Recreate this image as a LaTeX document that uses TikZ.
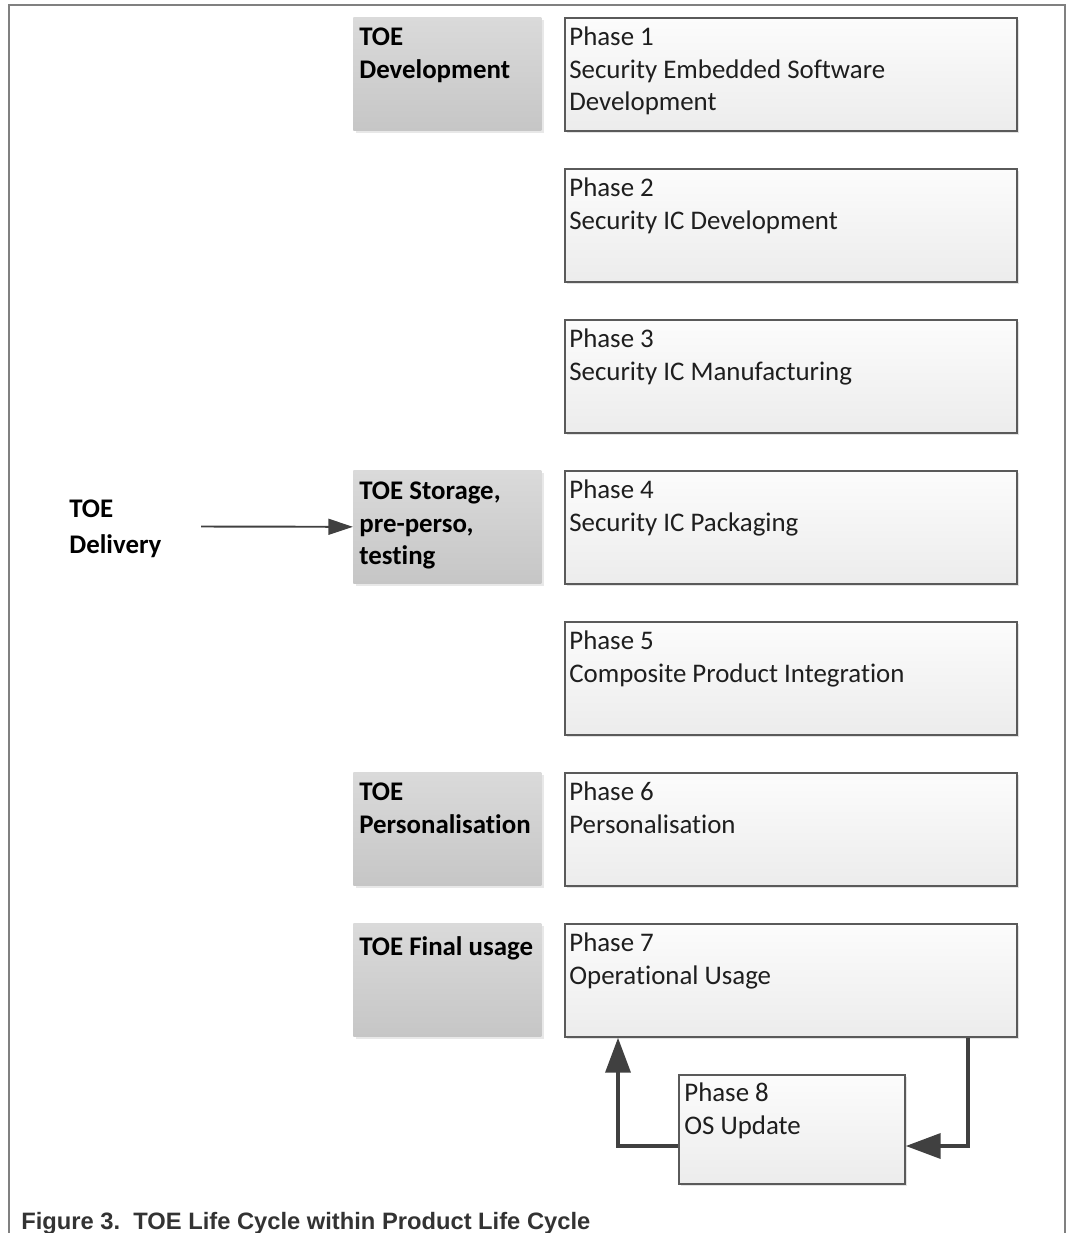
\documentclass[tikz,border=0pt]{standalone}
\usepackage{fontspec}
\setmainfont{Carlito}[Ligatures=NoCommon]
\newfontfamily\capfont{Liberation Sans}
\usetikzlibrary{arrows.meta,shadows,calc}
\definecolor{boxline}{HTML}{5A5A5A}
\definecolor{stagetop}{HTML}{DADADA}
\definecolor{stagebot}{HTML}{C6C6C6}
\definecolor{phasetop}{HTML}{FCFCFC}
\definecolor{phasebot}{HTML}{ECECEC}
\definecolor{inkgray}{HTML}{1E1E1E}
\definecolor{loopgray}{HTML}{404040}
\definecolor{capgray}{HTML}{333333}
\tikzset{
  phase/.style={draw=boxline, line width=0.9pt, top color=phasetop, bottom color=phasebot,
    minimum width=9.04cm, minimum height=2.26cm, inner sep=0pt, anchor=north west,
    drop shadow={shadow xshift=1.5pt, shadow yshift=-1.5pt, opacity=0.22}},
  stage/.style={top color=stagetop, bottom color=stagebot,
    minimum width=3.76cm, minimum height=2.26cm, inner sep=0pt, anchor=north west,
    drop shadow={shadow xshift=1.5pt, shadow yshift=-1.5pt, opacity=0.18}},
  boxtext/.style={anchor=north west, align=left, inner sep=0pt, text=inkgray,
    font=\fontsize{15.3}{18.5}\selectfont, execute at begin node={\strut}},
  stagetext/.style={boxtext, text=black, font=\fontsize{15.3}{18.3}\selectfont\bfseries},
  frame/.style={draw=gray, line width=0.6pt},
  feed/.style={-{Triangle[length=14pt,width=9pt]}, draw=loopgray, line width=1.1pt},
  looparrow/.style={-{Triangle[length=20pt,width=14pt]}, draw=loopgray, line width=2.8pt},
  captext/.style={anchor=base west, inner sep=0pt, text=capgray, font=\capfont\fontsize{13.5}{16}\selectfont\bfseries}
}
\begin{document}
\begin{tikzpicture}[x=0.02cm,y=-0.02cm]
  \useasboundingbox (0,0) rectangle (1066,1233);
  \draw[frame] (9,1233) -- (9,5) -- (1065,5) -- (1065,1233);
  % phases (strut top sits about 22px above the first baseline)
  \foreach \i/\txt in {1/{Security Embedded Software\\Development}, 2/{Security IC Development},
      3/{Security IC Manufacturing}, 4/{Security IC Packaging}, 5/{Composite Product Integration},
      6/{Personalisation}, 7/{Operational Usage}}{
    \node[phase] (p\i) at (564,{17+151*(\i-1)}) {};
    \node[boxtext] at ([shift={(5,9.5)}]p\i.north west) {Phase \i\\\txt};
  }
  \node[phase, minimum width=4.52cm, minimum height=2.18cm] (p8) at (678,1074) {};
  \node[boxtext] at ([shift={(6,8.5)}]p8.north west) {Phase 8\\OS Update};
  % TOE stages
  \node[stage] (dev) at (353,17) {};
  \node[stage] (store) at (353,470) {};
  \node[stage] (perso) at (353,772) {};
  \node[stage] (usage) at (353,923) {};
  \node[stagetext] at ([shift={(6,11)}]dev.north west) {TOE\\Development};
  \node[stagetext] at ([shift={(6,12)}]store.north west) {TOE Storage,\\pre-perso,\\testing};
  \node[stagetext] at ([shift={(6,11)}]perso.north west) {TOE\\Personalisation};
  \node[stagetext] at ([shift={(6,10)}]usage.north west) {TOE Final usage};
  \node[stagetext, font=\fontsize{15.3}{20.2}\selectfont\bfseries] (deliv) at (69,500) {TOE\\Delivery};
  \coordinate (feedstart) at (201,526.5);
  \draw[feed] (feedstart) -- (store.west);
  % update loop
  \coordinate (retR) at (968,1146);
  \coordinate (retL) at (618,1146);
  \draw[looparrow] (retR |- p7.south) -- (retR) -- (retR -| p8.east);
  \draw[looparrow] (retL -| p8.west) -- (retL) -- (retL |- p7.south);
  \node[captext] (cap) at (21,1229) {Figure 3.\ \ TOE Life Cycle within Product Life Cycle};
\end{tikzpicture}
\end{document}
